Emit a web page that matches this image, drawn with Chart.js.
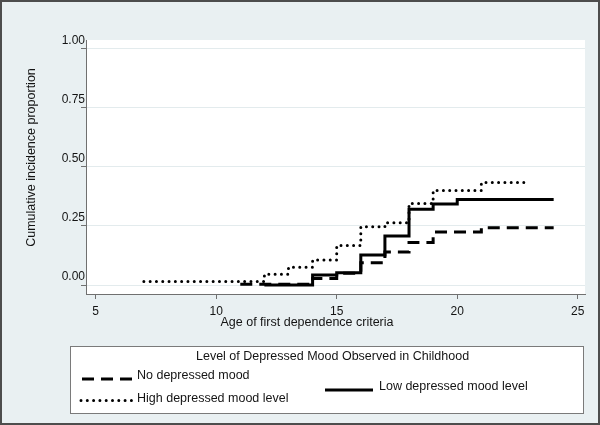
<!DOCTYPE html>
<html><head><meta charset="utf-8">
<script src="https://cdn.jsdelivr.net/npm/chart.js@4"></script>
<style>html,body{margin:0;padding:0;background:#E9F0F2;} canvas{display:block}</style>
</head><body>
<canvas id="c" width="600" height="425"></canvas>
<script>
// ---- data ----
const ageNo   = [11, 14, 15, 16, 17, 18, 19, 21, 24];
const cumNo   = [0.003, 0.028, 0.050, 0.094, 0.140, 0.180, 0.224, 0.242, 0.242];
const ageLow  = [12, 14, 15, 16, 17, 18, 19, 20, 24];
const cumLow  = [0.000, 0.042, 0.052, 0.127, 0.207, 0.320, 0.343, 0.362, 0.362];
const ageHigh = [7, 12, 13, 14, 15, 16, 17, 18, 19, 21, 23];
const cumHigh = [0.015, 0.046, 0.075, 0.106, 0.167, 0.246, 0.263, 0.345, 0.400, 0.433, 0.433];
const xTicks = [5, 10, 15, 20, 25];
const yTicks = [0, 0.25, 0.5, 0.75, 1];
const seriesNames = ['No depressed mood', 'Low depressed mood level', 'High depressed mood level'];
const xTitle = 'Age of first dependence criteria';
const yTitle = 'Cumulative incidence proportion';
const legendTitle = 'Level of Depressed Mood Observed in Childhood';

const FONT = '"Liberation Sans", Arial, sans-serif';
const TXT = '#141414';
const AXIS = '#707070';
Chart.defaults.font.family = FONT;

const pts = (xs, ys) => xs.map((x, i) => ({x: x, y: ys[i]}));

const bgPlugin = {
  id: 'bg',
  beforeDraw(chart) {
    const {ctx, chartArea: a} = chart;
    ctx.save();
    ctx.fillStyle = '#E9F0F2';
    ctx.fillRect(0, 0, chart.width, chart.height);
    ctx.fillStyle = '#FFFFFF';
    ctx.fillRect(a.left, a.top, a.right - a.left, a.bottom - a.top);
    ctx.restore();
  },
  afterDraw(chart) {
    const ctx = chart.ctx;
    ctx.save();
    ctx.fillStyle = TXT;
    ctx.font = '12.5px ' + FONT;
    ctx.textAlign = 'center';
    ctx.textBaseline = 'middle';
    ctx.fillText(xTitle, 307, 323);
    ctx.save();
    ctx.translate(32, 157.5);
    ctx.rotate(-Math.PI / 2);
    ctx.fillText(yTitle, 0, 0);
    ctx.restore();

    // legend box
    ctx.fillStyle = '#FFFFFF';
    ctx.fillRect(70.5, 346.5, 513, 67);
    ctx.strokeStyle = '#7a7a7a';
    ctx.lineWidth = 1;
    ctx.strokeRect(70.5, 346.5, 513, 67);
    ctx.fillStyle = TXT;
    ctx.textAlign = 'left';
    ctx.fillText(legendTitle, 196, 357);

    const ds = chart.data.datasets;
    const items = [
      {d: ds[0], x1: 82, x2: 132, ly: 379, tx: 137, ty: 376},
      {d: ds[1], x1: 325, x2: 373, ly: 390, tx: 379, ty: 387},
      {d: ds[2], x1: 81, x2: 134, ly: 400.5, tx: 137, ty: 398.5}
    ];
    items.forEach(it => {
      ctx.save();
      ctx.strokeStyle = it.d.borderColor;
      ctx.lineWidth = it.d.borderWidth;
      ctx.lineCap = it.d.borderCapStyle || 'butt';
      ctx.setLineDash(it.d.borderDash || []);
      ctx.beginPath();
      ctx.moveTo(it.x1, it.ly);
      ctx.lineTo(it.x2, it.ly);
      ctx.stroke();
      ctx.restore();
      ctx.fillStyle = TXT;
      ctx.fillText(it.d.label, it.tx, it.ty);
    });

    // outer frame
    ctx.strokeStyle = '#4d4d4d';
    ctx.lineWidth = 2;
    ctx.setLineDash([]);
    ctx.strokeRect(1, 1, chart.width - 2, chart.height - 2);
    ctx.restore();
  }
};

new Chart(document.getElementById('c'), {
  type: 'line',
  data: {
    datasets: [
      {label: seriesNames[0], data: pts(ageNo, cumNo), borderColor: '#000', borderWidth: 3,
       borderDash: [12, 7], stepped: 'before', pointRadius: 0, fill: false},
      {label: seriesNames[1], data: pts(ageLow, cumLow), borderColor: '#000', borderWidth: 3,
       stepped: 'before', pointRadius: 0, fill: false},
      {label: seriesNames[2], data: pts(ageHigh, cumHigh), borderColor: '#000', borderWidth: 3,
       borderDash: [0, 6.3], borderCapStyle: 'round', stepped: 'before', pointRadius: 0, fill: false}
    ]
  },
  options: {
    responsive: false,
    devicePixelRatio: 1,
    animation: false,
    layout: {padding: {top: 40, right: 15, left: 0, bottom: 0}},
    plugins: {legend: {display: false}, tooltip: {enabled: false}, title: {display: false}},
    scales: {
      x: {
        type: 'linear', min: 4.6, max: 25.3,
        afterBuildTicks: s => { s.ticks = xTicks.map(v => ({value: v})); },
        afterFit: s => { s.height = 131; },
        grid: {drawOnChartArea: false, drawTicks: true, tickLength: 5, tickColor: AXIS},
        border: {display: true, color: AXIS, width: 1},
        ticks: {padding: 5, color: TXT, font: {size: 12}, maxRotation: 0, autoSkip: false}
      },
      y: {
        type: 'linear', min: -0.038, max: 1.036,
        afterBuildTicks: s => { s.ticks = yTicks.map(v => ({value: v})); },
        afterFit: s => { s.width = 86; },
        grid: {drawOnChartArea: true, color: '#E3EBED', tickColor: AXIS, tickLength: 5, lineWidth: 1},
        border: {display: true, color: AXIS, width: 1},
        ticks: {padding: -4, labelOffset: -8, color: TXT, font: {size: 12}, autoSkip: false,
                callback: v => Number(v).toFixed(2)}
      }
    }
  },
  plugins: [bgPlugin]
});
</script>
</body></html>
